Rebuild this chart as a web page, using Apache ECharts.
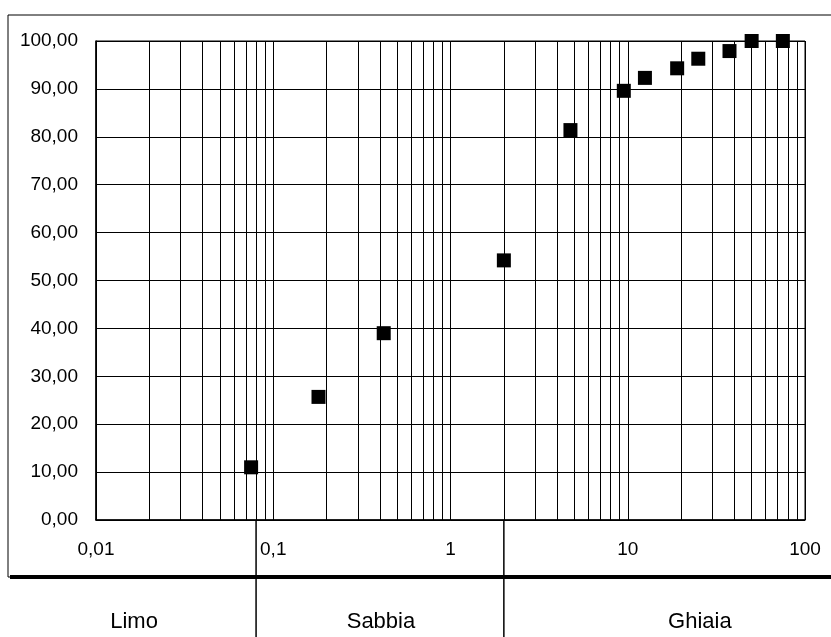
<!DOCTYPE html>
<html>
<head>
<meta charset="utf-8">
<script src="https://cdn.jsdelivr.net/npm/echarts@6/dist/echarts.min.js"></script>
<style>
  html, body { margin: 0; padding: 0; background: #fff; }
  #chart { width: 831px; height: 637px; }
</style>
</head>
<body>
<div id="chart"></div>
<script>
// Grain size (mm) and cumulative passing (%)
const sieveSizes = [0.075, 0.18, 0.42, 2, 4.75, 9.5, 12.5, 19, 25, 37.5, 50, 75];
const passing    = [11.0, 25.7, 39.0, 54.2, 81.4, 89.6, 92.3, 94.3, 96.3, 97.9, 100, 100];

// Soil class boundaries (mm) and the class names between them
const classBounds = [0.08, 2];
const classNames = ['Limo', 'Sabbia', 'Ghiaia'];

// Intermediate log grid lines (2..9 in every decade)
const decades = [0.01, 0.1, 1, 10];
const minorGrid = [];
decades.forEach(d => { for (let k = 2; k <= 9; k++) minorGrid.push(+(d * k).toPrecision(6)); });

const FONT = '"Liberation Sans", Arial, sans-serif';
const chart = echarts.init(document.getElementById('chart'), null, { renderer: 'canvas' });

const option = {
  backgroundColor: '#fff',
  animation: false,
  grid: {
    left: 96, right: 26, top: 41, bottom: 117,
    show: true, borderColor: '#000', borderWidth: 1
  },
  xAxis: {
    type: 'log', logBase: 10, min: 0.01, max: 100,
    axisLine: { show: true, lineStyle: { color: '#000', width: 1.5 } },
    axisTick: { show: false },
    axisLabel: {
      color: '#000', fontFamily: FONT, fontSize: 19, margin: 20,
      formatter: v => String(+v.toPrecision(6)).replace('.', ',')
    },
    splitLine: { show: true, lineStyle: { color: '#000', width: 1 } },
    minorTick: { show: false }, minorSplitLine: { show: false }
  },
  yAxis: {
    type: 'value', min: 0, max: 100, interval: 10,
    axisLine: { show: true, lineStyle: { color: '#000', width: 1.5 } },
    axisTick: { show: false },
    axisLabel: {
      color: '#000', fontFamily: FONT, fontSize: 19, margin: 18,
      formatter: v => v.toFixed(2).replace('.', ',')
    },
    splitLine: { show: true, lineStyle: { color: '#000', width: 1 } }
  },
  series: [
    {
      // carries the intermediate vertical grid lines
      type: 'line', data: [], z: 1, silent: true,
      markLine: {
        silent: true, symbol: ['none', 'none'],
        label: { show: false },
        lineStyle: { color: '#000', width: 1, type: 'solid' },
        emphasis: { disabled: true },
        data: minorGrid.map(v => ({ xAxis: v }))
      }
    },
    {
      type: 'scatter', z: 5,
      symbol: 'rect', symbolSize: 14,
      itemStyle: { color: '#000', opacity: 1 },
      data: sieveSizes.map((s, i) => [s, passing[i]])
    }
  ]
};
chart.setOption(option);

// Outer frame, class dividers and class names below the plot
const gridBottom = 637 - 117;
const bx = classBounds.map(v => chart.convertToPixel({ xAxisIndex: 0 }, v));
const frameLeft = 8, frameTop = 15, frameBottom = 577;
const labelY = 622;
const labelX = [ (frameLeft + bx[0]) / 2 + 2, (bx[0] + bx[1]) / 2 + 1, bx[1] + 196 ];

const graphics = [
  { type: 'rect', shape: { x: frameLeft, y: frameTop, width: 900, height: frameBottom - frameTop },
    style: { fill: null, stroke: '#000', lineWidth: 1 }, silent: true },
  { type: 'line', shape: { x1: frameLeft + 2, y1: frameBottom, x2: 831, y2: frameBottom },
    style: { stroke: '#000', lineWidth: 4 }, silent: true }
];
bx.forEach(x => graphics.push({
  type: 'line', shape: { x1: x, y1: gridBottom, x2: x, y2: 637 },
  style: { stroke: '#000', lineWidth: 1.5 }, silent: true
}));
classNames.forEach((name, i) => graphics.push({
  type: 'text', x: labelX[i], y: labelY,
  style: { text: name, fill: '#000', font: '22px ' + FONT, align: 'center', verticalAlign: 'middle' },
  silent: true
}));
chart.setOption({ graphic: graphics });
</script>
</body>
</html>
